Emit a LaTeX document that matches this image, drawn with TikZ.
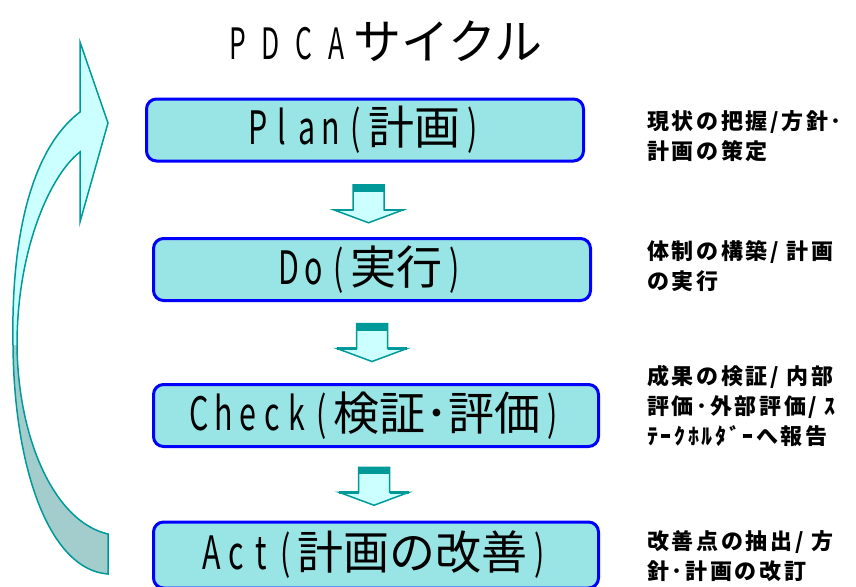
\documentclass[tikz,border=0pt]{standalone}
\usepackage{fontspec}
\usepackage{graphicx}
\setmainfont{Noto Sans CJK JP}
\usetikzlibrary{calc}
\definecolor{boxfill}{RGB}{153,228,228}
\definecolor{boxline}{RGB}{0,0,255}
\definecolor{arrfill}{RGB}{204,255,255}
\definecolor{arrline}{RGB}{0,153,153}
\definecolor{arrback}{RGB}{163,204,204}
\newcommand{\hw}[1]{\makebox[24.5pt]{\scalebox{0.66}[1]{#1}}}
\newcommand{\tw}[1]{\makebox[33pt]{\scalebox{0.55}[0.9]{#1}}}
\tikzset{
  stagebox/.style={draw=boxline, fill=boxfill, line width=3pt, rounded corners=10pt,
    minimum height=62pt, inner sep=0pt, font=\fontsize{46}{50}\selectfont},
  note/.style={anchor=north west, inner sep=0pt, align=left,
    font=\fontsize{22}{30}\selectfont\bfseries\addfontfeatures{LetterSpace=12}},
  downarrow/.pic={
    \filldraw[fill=arrfill, draw=arrline, line width=1.5pt, line join=miter]
      (-15.5,-19) -- (15.5,-19) -- (15.5,6) -- (35,6) -- (0,19) -- (-35,6) -- (-15.5,6) -- cycle;
    \fill[arrline] (-15.5,-19) rectangle (15.5,-12);
    \draw[arrline, line width=2.5pt] (-35,6) -- (-15.5,6) (15.5,6) -- (35,6);
  }
}
\begin{document}
\begin{tikzpicture}[x=1pt,y=-1pt]
\useasboundingbox (0,0) rectangle (856,586);
\clip (0,0) rectangle (856,586);

% title
\node[inner sep=0pt, font=\fontsize{48}{50}\selectfont] (title) at (382,41)
  {\tw{P}\tw{D}\tw{C}\tw{A}サイクル};

% stage boxes
\node[stagebox, minimum width=437pt] (plan) at (365,130)
  {\hw{P}\hw{l}\hw{a}\hw{n}\hw{(}計画\hw{)}};
\node[stagebox, minimum width=437pt] (do) at (372,269.5)
  {\hw{D}\hw{o}\hw{(}実行\hw{)}};
\node[stagebox, minimum width=445pt] (check) at (376,415.5)
  {\hw{C}\hw{h}\hw{e}\hw{c}\hw{k}\hw{(}検証･評価\hw{)}};
\node[stagebox, minimum width=445pt, minimum height=66pt] (act) at (376,555)
  {\hw{A}\hw{c}\hw{t}\hw{(}計画の改善\hw{)}};

% block arrows between stages
\pic at ($(plan.south)!0.5!(do.north)+(0,4)$) {downarrow};
\pic at ($(do.south)!0.5!(check.north)+(-2,0)$) {downarrow};
\pic at ($(check.south)!0.5!(act.north)+(-2,2)$) {downarrow};

% notes
\node[note] (nplan) at (647,110) {現状の把握/方針･\\計画の策定};
\node[note] (ndo) at (647,240) {体制の構築/ 計画\\の実行};
\node[note] (ncheck) at (647,365) {成果の検証/ 内部\\評価･外部評価/ ｽ\\ﾃｰｸﾎﾙﾀﾞｰへ報告};
\node[note] (nact) at (647,530) {改善点の抽出/ 方\\針･計画の改訂};

% curved return arrow
\fill[arrback] (13,345) .. controls (14,470) and (50,570) .. (108,574) -- (108,534)
  .. controls (55,522) and (18,440) .. (17,345) -- cycle;
\fill[arrfill] (13,345) .. controls (11,240) and (30,150) .. (80,112) -- (80,42) -- (108,123)
  -- (80,222) -- (80,152) .. controls (50,175) and (17,250) .. (17,345) -- cycle;
\draw[arrline, line width=1.5pt, line join=miter]
  (108,534) .. controls (55,522) and (18,440) .. (17,345)
  .. controls (17,250) and (50,175) .. (80,152) -- (80,222) -- (108,123) -- (80,42) -- (80,112)
  .. controls (30,150) and (11,240) .. (13,345)
  .. controls (14,470) and (50,570) .. (108,574) -- cycle;
\end{tikzpicture}
\end{document}
